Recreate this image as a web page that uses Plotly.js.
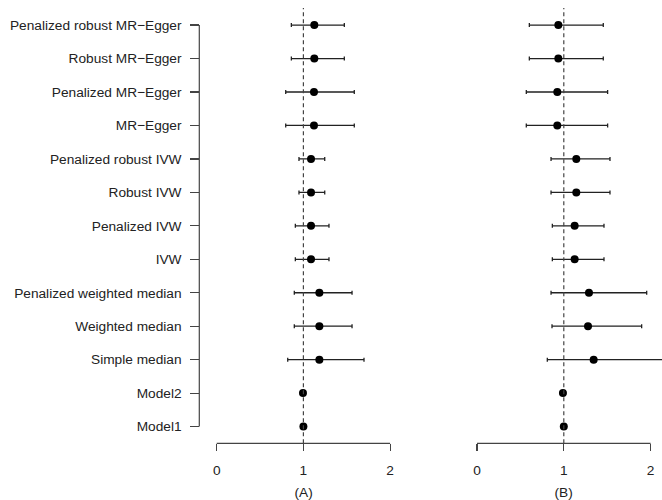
<!DOCTYPE html>
<html>
<head>
<meta charset="utf-8">
<script src="https://cdn.plot.ly/plotly-3.0.1.min.js"></script>
<style>html,body{margin:0;padding:0;background:#fff;}#chart{width:662px;height:500px;}</style>
</head>
<body>
<div id="chart"></div>
<script>
// Methods, listed top to bottom
const methods = ["Penalized robust MR\u2212Egger","Robust MR\u2212Egger","Penalized MR\u2212Egger","MR\u2212Egger",
  "Penalized robust IVW","Robust IVW","Penalized IVW","IVW",
  "Penalized weighted median","Weighted median","Simple median","Model2","Model1"];

// Panel (A)
const estA = [1.126,1.126,1.122,1.122,1.088,1.088,1.088,1.088,1.184,1.184,1.184,0.995,1.0];
const lowA = [0.861,0.861,0.796,0.796,0.949,0.949,0.907,0.907,0.895,0.895,0.819,null,null];
const highA = [1.472,1.472,1.587,1.587,1.246,1.246,1.295,1.295,1.561,1.561,1.699,null,null];

// Panel (B)
const estB = [0.937,0.937,0.925,0.925,1.144,1.144,1.125,1.125,1.290,1.279,1.344,0.99,1.0];
const lowB = [0.603,0.603,0.568,0.568,0.853,0.853,0.868,0.868,0.853,0.864,0.810,null,null];
const highB = [1.455,1.455,1.505,1.505,1.532,1.532,1.463,1.463,1.955,1.897,2.30,null,null];

const xTicks = [0,1,2];
const panelLabels = ["(A)","(B)"];
const refValue = 1;

const W = 662, H = 500;
const FONT = "Liberation Sans, Arial, Helvetica, sans-serif";
const FS = 13.7;

function plus(est, hi){ return est.map((v,i)=> hi[i]==null ? NaN : hi[i]-v); }
function minus(est, lo){ return est.map((v,i)=> lo[i]==null ? NaN : v-lo[i]); }

function trace(est, lo, hi, xa){
  return {
    type: "scatter", mode: "markers",
    x: est, y: methods, xaxis: xa, yaxis: "y",
    marker: {color: "#000", size: 8},
    error_x: {type: "data", symmetric: false, array: plus(est, hi), arrayminus: minus(est, lo),
              color: "#222", thickness: 1.3, width: 2},
    cliponaxis: true, hoverinfo: "skip", showlegend: false
  };
}

const yBottomPx = 443.3;
const yFracBottom = (H - yBottomPx) / H;

const shapes = [];
["x","x2"].forEach(xr => {
  // axis line from first to last tick
  shapes.push({type:"line", xref: xr, yref:"paper", x0: xTicks[0], x1: xTicks[xTicks.length-1],
    y0: yFracBottom, y1: yFracBottom, line:{color:"#444", width:1.2}});
  // dashed reference line
  shapes.push({type:"line", xref: xr, yref:"paper", x0: refValue, x1: refValue,
    y0: yFracBottom, y1: (H-8)/H, line:{color:"#444", width:1.2, dash:"4px,3px"}});
});
// y axis line spanning first to last category
shapes.push({type:"line", xref:"paper", yref:"y", x0: 199.3/W, x1: 199.3/W,
  y0: 0, y1: methods.length-1, line:{color:"#444", width:1.2}});

const catOrder = methods.slice().reverse();

const axisX = (dom, rng, title) => ({
  domain: dom, range: rng, anchor: "y",
  tickvals: xTicks, ticktext: xTicks.map(String),
  ticks: "outside", ticklen: 7, tickwidth: 1.2, tickcolor: "#444",
  ticklabelstandoff: 7,
  showline: false, showgrid: false, zeroline: false,
  tickfont: {family: FONT, size: FS, color: "#222"},
  title: {text: title, font: {family: FONT, size: FS, color: "#222"}, standoff: 10},
  fixedrange: true
});

const layout = {
  width: W, height: H,
  margin: {l:0, r:0, t:0, b:0},
  paper_bgcolor: "#fff", plot_bgcolor: "#fff",
  xaxis: axisX([200/W, 407.4/W], [(200-216.7)/86.7, (407.4-216.7)/86.7], panelLabels[0]),
  xaxis2: axisX([465.4/W, 1], [(465.4-477)/86.8, (662-477)/86.8], panelLabels[1]),
  yaxis: {
    domain: [yFracBottom, 1], anchor: "free", position: 199.3/W,
    type: "category", categoryorder: "array", categoryarray: catOrder,
    range: [-0.5, 12.75],
    ticks: "outside", ticklen: 9, tickwidth: 1.2, tickcolor: "#444",
    ticklabelstandoff: 6,
    showline: false, showgrid: false, zeroline: false,
    tickfont: {family: FONT, size: FS, color: "#222"},
    fixedrange: true
  },
  shapes: shapes
};

Plotly.newPlot("chart", [trace(estA, lowA, highA, "x"), trace(estB, lowB, highB, "x2")], layout,
  {displayModeBar: false, staticPlot: true});
</script>
</body>
</html>
